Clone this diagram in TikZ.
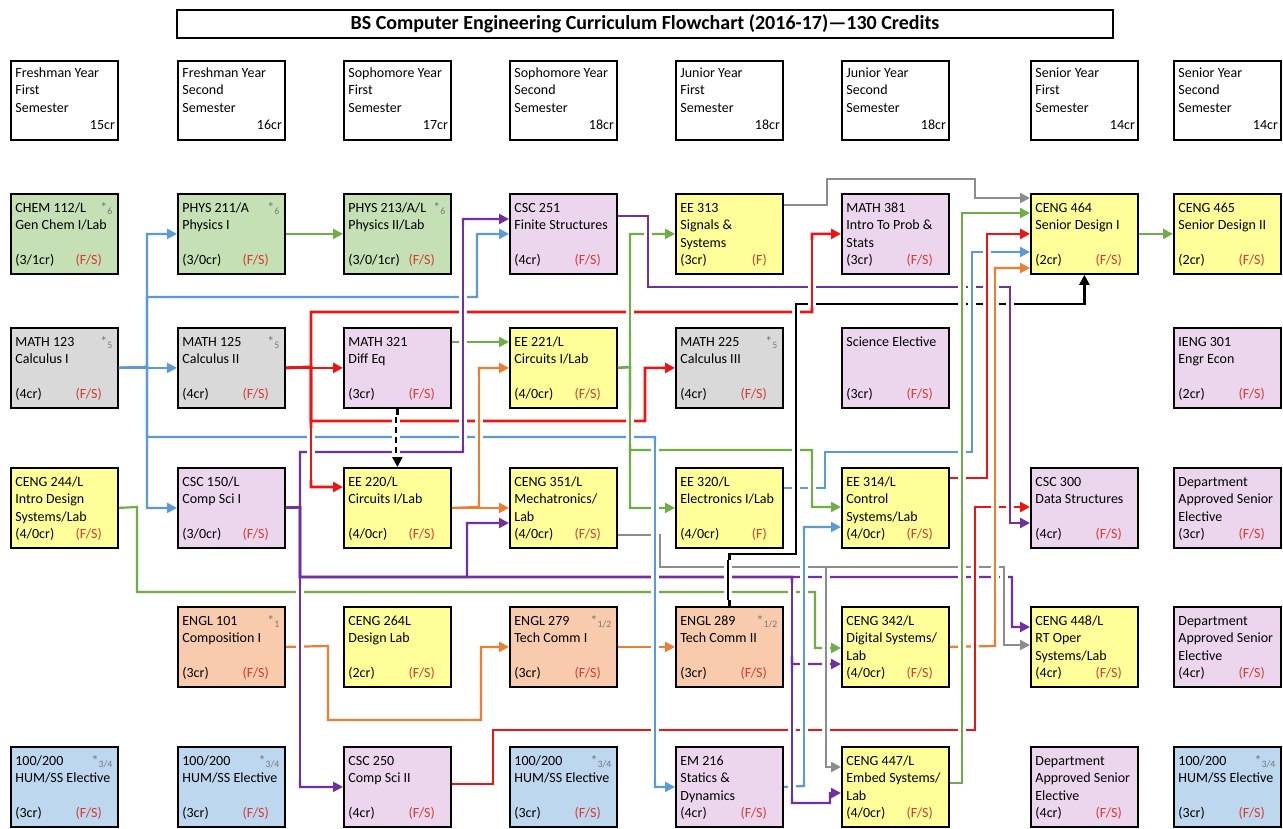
\documentclass[tikz,border=0pt]{standalone}
\usepackage{fontspec}
\setmainfont{Carlito}
\usetikzlibrary{arrows.meta}
\definecolor{fgreen}{RGB}{197,224,180}
\definecolor{fgray}{RGB}{217,217,217}
\definecolor{fpink}{RGB}{236,214,238}
\definecolor{fyellow}{RGB}{255,255,153}
\definecolor{forange}{RGB}{248,203,173}
\definecolor{fblue}{RGB}{189,215,238}
\definecolor{lblue}{RGB}{91,155,213}
\definecolor{lgreen}{RGB}{112,173,71}
\definecolor{lred}{RGB}{238,20,20}
\definecolor{lorange}{RGB}{237,125,49}
\definecolor{lpurple}{RGB}{112,48,160}
\definecolor{lgray}{RGB}{140,140,140}
\definecolor{semred}{RGB}{210,60,50}
\definecolor{notegray}{RGB}{120,120,120}
\newcommand{\bxl}[1]{\hbox to 107pt{\vrule height 12pt depth 5.3pt width 0pt\hskip 4.5pt #1}}
\newcommand{\cc}[6]{%
  \vbox to 80pt{\fontsize{14}{17.3}\selectfont\offinterlineskip
    \vskip 6.5pt
    \bxl{#1\hfil{\color{notegray}#2}\hskip 5pt}%
    \bxl{#3\hfil}%
    \bxl{#4\hfil}%
    \bxl{#5\hfil\hbox to 0pt{\hss\color{semred}#6}\hskip 16pt}%
    \vfil}}
\newcommand{\hd}[4]{%
  \vbox to 79pt{\fontsize{14}{17.3}\selectfont\offinterlineskip
    \vskip 4.5pt
    \bxl{#1\hfil}\bxl{#2\hfil}\bxl{#3\hfil}\bxl{\hfil #4\hskip 3pt}\vfil}}
\newcommand{\nt}[1]{*\textsubscript{#1}}
\begin{document}
\begin{tikzpicture}[x=1pt,y=-1pt,
  crs/.style={draw=black,line width=1.8pt,anchor=north west,inner sep=0pt,minimum width=107pt,minimum height=80pt},
  hdr/.style={draw=black,line width=1.8pt,anchor=north west,inner sep=0pt,minimum width=107pt,minimum height=79pt,fill=white},
  tip/.style={-{Triangle[length=10pt,width=10pt]}},
  con/.style={line width=2.2pt,tip},
  lb/.style={con,draw=lblue},
  lg/.style={con,draw=lgreen},
  lr/.style={con,draw=lred,line width=2.6pt},
  lo/.style={con,draw=lorange},
  lp/.style={con,draw=lpurple},
  ly/.style={con,draw=lgray},
  lk/.style={con,draw=black},
  ov/.style={-,preaction={draw=white,line width=8pt,solid,-}}]
\useasboundingbox (0,0) rectangle (1283,828);
\fill[white] (0,0) rectangle (1283,828);
% title
\node[draw=black,line width=1.8pt,minimum width=936pt,minimum height=28pt,inner sep=0pt,font=\fontsize{20}{23}\selectfont\bfseries] (title) at (645,24) {BS Computer Engineering Curriculum Flowchart (2016-17)—130 Credits};
% headers
\node[hdr] (h1) at (10,60) {\hd{Freshman Year}{First}{Semester}{15cr}};
\node[hdr] (h2) at (177,60) {\hd{Freshman Year}{Second}{Semester}{16cr}};
\node[hdr] (h3) at (343,60) {\hd{Sophomore Year}{First}{Semester}{17cr}};
\node[hdr] (h4) at (509,60) {\hd{Sophomore Year}{Second}{Semester}{18cr}};
\node[hdr] (h5) at (675,60) {\hd{Junior Year}{First}{Semester}{18cr}};
\node[hdr] (h6) at (841,60) {\hd{Junior Year}{Second}{Semester}{18cr}};
\node[hdr] (h7) at (1030,60) {\hd{Senior Year}{First}{Semester}{14cr}};
\node[hdr] (h8) at (1173,60) {\hd{Senior Year}{Second}{Semester}{14cr}};
% row 1
\node[crs,fill=fgreen] (chem) at (10,193) {\cc{CHEM 112/L}{\nt{6}}{Gen Chem I/Lab}{}{(3/1cr)}{(F/S)}};
\node[crs,fill=fgreen] (phys1) at (177,193) {\cc{PHYS 211/A}{\nt{6}}{Physics I}{}{(3/0cr)}{(F/S)}};
\node[crs,fill=fgreen] (phys2) at (343,193) {\cc{PHYS 213/A/L}{\nt{6}}{Physics II/Lab}{}{(3/0/1cr)}{(F/S)}};
\node[crs,fill=fpink] (csc251) at (509,193) {\cc{CSC 251}{}{Finite Structures}{}{(4cr)}{(F/S)}};
\node[crs,fill=fyellow] (ee313) at (675,193) {\cc{EE 313}{}{Signals \&}{Systems}{(3cr)}{(F)}};
\node[crs,fill=fpink] (math381) at (841,193) {\cc{MATH 381}{}{Intro To Prob \&}{Stats}{(3cr)}{(F/S)}};
\node[crs,fill=fyellow] (ceng464) at (1030,193) {\cc{CENG 464}{}{Senior Design I}{}{(2cr)}{(F/S)}};
\node[crs,fill=fyellow] (ceng465) at (1173,193) {\cc{CENG 465}{}{Senior Design II}{}{(2cr)}{(F/S)}};
% row 2
\node[crs,fill=fgray] (math123) at (10,327) {\cc{MATH 123}{\nt{5}}{Calculus I}{}{(4cr)}{(F/S)}};
\node[crs,fill=fgray] (math125) at (177,327) {\cc{MATH 125}{\nt{5}}{Calculus II}{}{(4cr)}{(F/S)}};
\node[crs,fill=fpink] (math321) at (343,327) {\cc{MATH 321}{}{Diff Eq}{}{(3cr)}{(F/S)}};
\node[crs,fill=fyellow] (ee221) at (509,327) {\cc{EE 221/L}{}{Circuits I/Lab}{}{(4/0cr)}{(F/S)}};
\node[crs,fill=fgray] (math225) at (675,327) {\cc{MATH 225}{\nt{5}}{Calculus III}{}{(4cr)}{(F/S)}};
\node[crs,fill=fpink] (scielec) at (841,327) {\cc{Science Elective}{}{}{}{(3cr)}{(F/S)}};
\node[crs,fill=fpink] (ieng301) at (1173,327) {\cc{IENG 301}{}{Engr Econ}{}{(2cr)}{(F/S)}};
% row 3
\node[crs,fill=fyellow] (ceng244) at (10,467) {\cc{CENG 244/L}{}{Intro Design}{Systems/Lab}{(4/0cr)}{(F/S)}};
\node[crs,fill=fpink] (csc150) at (177,467) {\cc{CSC 150/L}{}{Comp Sci I}{}{(3/0cr)}{(F/S)}};
\node[crs,fill=fyellow] (ee220) at (343,467) {\cc{EE 220/L}{}{Circuits I/Lab}{}{(4/0cr)}{(F/S)}};
\node[crs,fill=fyellow] (ceng351) at (509,467) {\cc{CENG 351/L}{}{Mechatronics/}{Lab}{(4/0cr)}{(F/S)}};
\node[crs,fill=fyellow] (ee320) at (675,467) {\cc{EE 320/L}{}{Electronics I/Lab}{}{(4/0cr)}{(F)}};
\node[crs,fill=fyellow] (ee314) at (841,467) {\cc{EE 314/L}{}{Control}{Systems/Lab}{(4/0cr)}{(F/S)}};
\node[crs,fill=fpink] (csc300) at (1030,467) {\cc{CSC 300}{}{Data Structures}{}{(4cr)}{(F/S)}};
\node[crs,fill=fpink] (dase1) at (1173,467) {\cc{Department}{}{Approved Senior}{Elective}{(3cr)}{(F/S)}};
% row 4
\node[crs,fill=forange] (engl101) at (177,606) {\cc{ENGL 101}{\nt{1}}{Composition I}{}{(3cr)}{(F/S)}};
\node[crs,fill=fyellow] (ceng264) at (343,606) {\cc{CENG 264L}{}{Design Lab}{}{(2cr)}{(F/S)}};
\node[crs,fill=forange] (engl279) at (509,606) {\cc{ENGL 279}{\nt{1/2}}{Tech Comm I}{}{(3cr)}{(F/S)}};
\node[crs,fill=forange] (engl289) at (675,606) {\cc{ENGL 289}{\nt{1/2}}{Tech Comm II}{}{(3cr)}{(F/S)}};
\node[crs,fill=fyellow] (ceng342) at (841,606) {\cc{CENG 342/L}{}{Digital Systems/}{Lab}{(4/0cr)}{(F/S)}};
\node[crs,fill=fyellow] (ceng448) at (1030,606) {\cc{CENG 448/L}{}{RT Oper}{Systems/Lab}{(4cr)}{(F/S)}};
\node[crs,fill=fpink] (dase2) at (1173,606) {\cc{Department}{}{Approved Senior}{Elective}{(4cr)}{(F/S)}};
% row 5
\node[crs,fill=fblue] (hum1) at (10,746) {\cc{100/200}{\nt{3/4}}{HUM/SS Elective}{}{(3cr)}{(F/S)}};
\node[crs,fill=fblue] (hum2) at (177,746) {\cc{100/200}{\nt{3/4}}{HUM/SS Elective}{}{(3cr)}{(F/S)}};
\node[crs,fill=fpink] (csc250) at (343,746) {\cc{CSC 250}{}{Comp Sci II}{}{(4cr)}{(F/S)}};
\node[crs,fill=fblue] (hum3) at (509,746) {\cc{100/200}{\nt{3/4}}{HUM/SS Elective}{}{(3cr)}{(F/S)}};
\node[crs,fill=fpink] (em216) at (675,746) {\cc{EM 216}{}{Statics \&}{Dynamics}{(4cr)}{(F/S)}};
\node[crs,fill=fyellow] (ceng447) at (841,746) {\cc{CENG 447/L}{}{Embed Systems/}{Lab}{(4/0cr)}{(F/S)}};
\node[crs,fill=fpink] (dase3) at (1030,746) {\cc{Department}{}{Approved Senior}{Elective}{(4cr)}{(F/S)}};
\node[crs,fill=fblue] (hum4) at (1173,746) {\cc{100/200}{\nt{3/4}}{HUM/SS Elective}{}{(3cr)}{(F/S)}};
% ---------- connectors ----------
% blue
\draw[lb] (math123.east) -- (math125.west);
\draw[lb] (math123.east) -- (147,367) |- (phys1.west);
\draw[lb] (math123.east) -- (147,367) |- (csc150.west);
\draw[lb] (math123.east) -- (147,367) |- (477,297) |- (csc251.west);
\draw[lb] (math123.east) -- (147,367) |- (655,437) |- (em216.west);
\draw[lb] (ee320.east |- 0,488) -- (825,488) |- (972,452) |- (ceng464.west |- 0,252);
\draw[lb] (em216.east) -- (804,786) |- (ee314.west |- 0,527);
% green
\draw[lg] (phys1.east) -- (phys2.west);
\draw[lg] (math321.east |- 0,342) -- (ee221.west |- 0,342);
\draw[lg] (ee221.east) -- (630,367) |- (ee313.west);
\draw[lg] (ee221.east) -- (630,367) |- (ee320.west);
\draw[lg] (ee221.east) -- (630,367) |- (812,450) |- (ee314.west |- 0,507);
\draw[lg] (ceng464.east) -- (ceng465.west);
\draw[lg] (ceng244.east) -- (137,507) |- (815,592) |- (ceng342.west |- 0,648);
\draw[lg] (ceng447.east |- 0,783) -- (962,783) |- (ceng464.west |- 0,213);
% gray
\draw[ly] (ee313.east |- 0,205) -- (827,205) |- (975,179) |- (ceng464.west |- 0,198);
\draw[ly] (ceng351.east |- 0,535) -- (660,535) |- (1004,567) |- (ceng448.west |- 0,645);
\draw[ly] (ceng351.east |- 0,535) -- (660,535) |- (826,567) |- (ceng447.west |- 0,767);
% purple
\draw[lp] (csc150.east) -- (300,507) |- (csc250.west);
\draw[lp] (csc150.east) -- (300,507) |- (463,452) |- (csc251.west |- 0,219);
\draw[lp] (csc150.east) -- (300,507) |- (467,577) |- (ceng351.west |- 0,523);
\draw[lp] (csc150.east) -- (300,507) |- (1012,577) |- (ceng448.west |- 0,627);
\draw[lp] (csc150.east) -- (300,507) |- (792,577) |- (ceng342.west |- 0,664);
\draw[lp] (csc150.east) -- (300,507) |- (792,577) -- (792,803) -| (830,793) -- (ceng447.west |- 0,793);
\draw[lp] (csc251.east |- 0,216) -- (648,216) |- (1010,287) |- (csc300.west |- 0,523);
% red
\draw[lr] (math125.east) -- (math321.west);
\draw[lr] (math125.east) -- (311,367) |- (812,312) |- (math381.west);
\draw[lr] (math125.east) -- (311,367) |- (ee220.west |- 0,487);
\draw[lr] (math125.east) -- (311,367) |- (645,421) |- (math225.west);
\draw[lr] (csc250.east |- 0,784) -- (493,784) |- (975,730) |- (csc300.west |- 0,507);
\draw[lr] (ee314.east |- 0,478) -- (987,478) |- (ceng464.west);
% orange
\draw[lo] (ee220.east) -- (ceng351.west);
\draw[lo] (ee220.east) -- (479,507) |- (ee221.west);
\draw[lo] (engl101.east) -- (328,646) |- (481,720) |- (engl279.west);
\draw[lo] (engl279.east) -- (engl289.west);
\draw[lo] (ceng342.east) -- (995,646) |- (ceng464.west |- 0,268);
% black
\draw[lk,dash pattern=on 6pt off 4pt] (math321.south) -- (ee220.north);
\draw[lk] (engl289.north) |- (796,554) |- (ceng464.south |- 0,304) -- (ceng464.south);
% ---------- line jumps: vertical runs break the horizontals they cross ----------
\draw[lb,ov] (655,444) -- (655,779);
\draw[lb,ov] (972,262) -- (972,446);
\draw[lb,ov] (804,534) -- (804,779);
\draw[lg,ov] (630,300) -- (630,330);
\draw[lg,ov] (630,410) -- (630,444);
\draw[lg,ov] (812,470) -- (812,500);
\draw[lg,ov] (962,222) -- (962,776);
\draw[ly,ov] (1004,574) -- (1004,638);
\draw[ly,ov] (826,574) -- (826,760);
\draw[lp,ov] (300,585) -- (300,779);
\draw[lp,ov] (463,226) -- (463,446);
\draw[lp,ov] (792,583) -- (792,656);
\draw[lp,ov] (792,672) -- (792,796);
\draw[lp,ov] (648,224) -- (648,280);
\draw[lp,ov] (1010,294) -- (1010,516);
\draw[lr,ov] (311,428) -- (311,480);
\draw[lr,ov] (812,240) -- (812,307);
\draw[lr,ov] (975,514) -- (975,723);
\draw[lr,ov] (987,240) -- (987,471);
\draw[lo,ov] (479,374) -- (479,500);
\draw[lo,ov] (995,275) -- (995,639);
\draw[lk,ov] (796,308) -- (796,548);
\draw[lk,ov] (728,560) -- (728,600);
\draw[lk,ov,dash pattern=on 6pt off 4pt] (396,417) -- (396,457);
\end{tikzpicture}
\end{document}
